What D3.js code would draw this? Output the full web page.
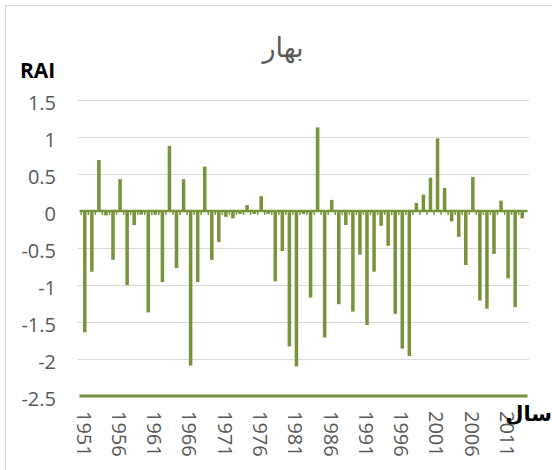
<!DOCTYPE html>
<html>
<head>
<meta charset="utf-8">
<script src="https://cdnjs.cloudflare.com/ajax/libs/d3/7.8.5/d3.min.js"></script>
<style>
  body { margin: 0; background: #fff; }
  svg { display: block; }
</style>
</head>
<body>
<div id="chart"></div>
<script>
// data (spring RAI per year)
var years = d3.range(1951, 2014);
var rai = [
  -1.64, -0.82, 0.69, -0.06, -0.66, 0.43, -1.0, -0.19, -0.05, -1.37,
  -0.05, -0.96, 0.88, -0.77, 0.43, -2.09, -0.96, 0.6, -0.66, -0.42,
  -0.08, -0.1, -0.04, 0.08, -0.04, 0.2, -0.04, -0.95, -0.54, -1.83,
  -2.1, -0.04, -1.17, 1.13, -1.71, 0.15, -1.26, -0.19, -1.36, -0.59,
  -1.54, -0.82, -0.2, -0.47, -1.39, -1.86, -1.96, 0.11, 0.22, 0.45,
  0.98, 0.31, -0.14, -0.35, -0.73, 0.46, -1.21, -1.32, -0.58, 0.14,
  -0.91, -1.3, -0.1
];
var yTicks = [1.5, 1, 0.5, 0, -0.5, -1, -1.5, -2, -2.5];
var xTickYears = [1951, 1956, 1961, 1966, 1971, 1976, 1981, 1986, 1991, 1996, 2001, 2006, 2011];

var titleText = "بهار";
var yTitle = "RAI";
var xTitle = "سال";

var data = years.map(function(yr, i) {
  return { year: yr, value: rai[i] };
});

// set up svg
var svgWidth = 552;
var svgHeight = 470;
var green = "#77933C";
var grey = "#595959";

var svg = d3.select("#chart")
  .append("svg")
  .attr("width", svgWidth)
  .attr("height", svgHeight);

// chart frame (right / bottom edges fall outside the crop)
svg.append("rect")
  .attr("x", 5.5)
  .attr("y", 5.5)
  .attr("width", 600)
  .attr("height", 520)
  .attr("fill", "#fff")
  .attr("stroke", "#d9d9d9");

// scales
var x = d3.scaleBand()
  .domain(years)
  .range([79.5, 527.5])
  .padding(0.5);

var y = d3.scaleLinear()
  .domain([-2.5, 1.5])
  .range([396, 100]);

// gridlines
svg.append("g")
  .selectAll("line")
  .data(yTicks.filter(function(d) { return d !== -2.5 && d !== 0; }))
  .enter()
  .append("line")
  .attr("x1", 78)
  .attr("x2", 529)
  .attr("y1", d => Math.round(y(d)) + 0.5)
  .attr("y2", d => Math.round(y(d)) + 0.5)
  .attr("stroke", "#d9d9d9")
  .attr("stroke-width", 1);

// y axis labels
var leftAxis = d3.axisLeft(y)
  .tickValues(yTicks)
  .tickSize(0)
  .tickPadding(0)
  .tickFormat(d3.format(""));

var yAxis = svg.append("g")
  .attr("transform", "translate(56,0)")
  .call(leftAxis);

yAxis.select(".domain").remove();
yAxis.selectAll("text")
  .attr("font-family", "'Open Sans', sans-serif")
  .attr("font-size", 20)
  .attr("fill", grey)
  .attr("dy", "0.45em")
  .text(d => d < 0 ? "-" + Math.abs(d) : d);

// bars
svg.append("g")
  .selectAll("rect")
  .data(data)
  .enter()
  .append("rect")
  .attr("x", d => x(d.year))
  .attr("width", x.bandwidth())
  .attr("y", d => y(Math.max(0, d.value)))
  .attr("height", d => Math.abs(y(d.value) - y(0)))
  .attr("fill", green);

// zero line with tick marks between categories
var zeroAxis = d3.axisBottom(x)
  .tickSize(4)
  .tickFormat("");

var zeroG = svg.append("g")
  .attr("transform", `translate(0, ${y(0)})`)
  .call(zeroAxis);

zeroG.select(".domain")
  .attr("stroke", green)
  .attr("stroke-width", 2.5)
  .attr("d", `M${x.range()[0]},0H${x.range()[1]}`);
zeroG.selectAll(".tick line")
  .attr("stroke", green)
  .attr("stroke-width", 1.5)
  .attr("transform", `translate(${-x.step() / 2},0)`);

// bottom axis at -2.5 with rotated year labels
var bottomAxis = d3.axisBottom(x)
  .tickValues(xTickYears)
  .tickSize(0)
  .tickPadding(0);

var xAxis = svg.append("g")
  .attr("transform", `translate(-1, ${y(-2.5)})`)
  .call(bottomAxis);

xAxis.select(".domain")
  .attr("stroke", green)
  .attr("stroke-width", 3)
  .attr("d", `M${x.range()[0] + 1},0H${x.range()[1] + 1}`);

xAxis.selectAll("text")
  .attr("font-family", "'Open Sans', sans-serif")
  .attr("font-size", 20)
  .attr("fill", grey)
  .attr("transform", "rotate(90)")
  .attr("x", 15)
  .attr("y", 0)
  .attr("dy", "0.36em")
  .attr("text-anchor", "start");

// titles
svg.append("text")
  .attr("x", 283)
  .attr("y", 57)
  .attr("text-anchor", "middle")
  .attr("font-family", "'DejaVu Sans', sans-serif")
  .attr("font-size", 27)
  .attr("fill", grey)
  .text(titleText);

svg.append("text")
  .attr("x", 20)
  .attr("y", 78)
  .attr("font-family", "'Open Sans', sans-serif")
  .attr("font-weight", "bold")
  .attr("font-size", 21)
  .attr("fill", "#000")
  .text(yTitle);

svg.append("text")
  .attr("x", 552)
  .attr("y", 421)
  .attr("text-anchor", "end")
  .attr("font-family", "'DejaVu Sans', sans-serif")
  .attr("font-weight", "bold")
  .attr("font-size", 21)
  .attr("fill", "#000")
  .text(xTitle);
</script>
</body>
</html>
